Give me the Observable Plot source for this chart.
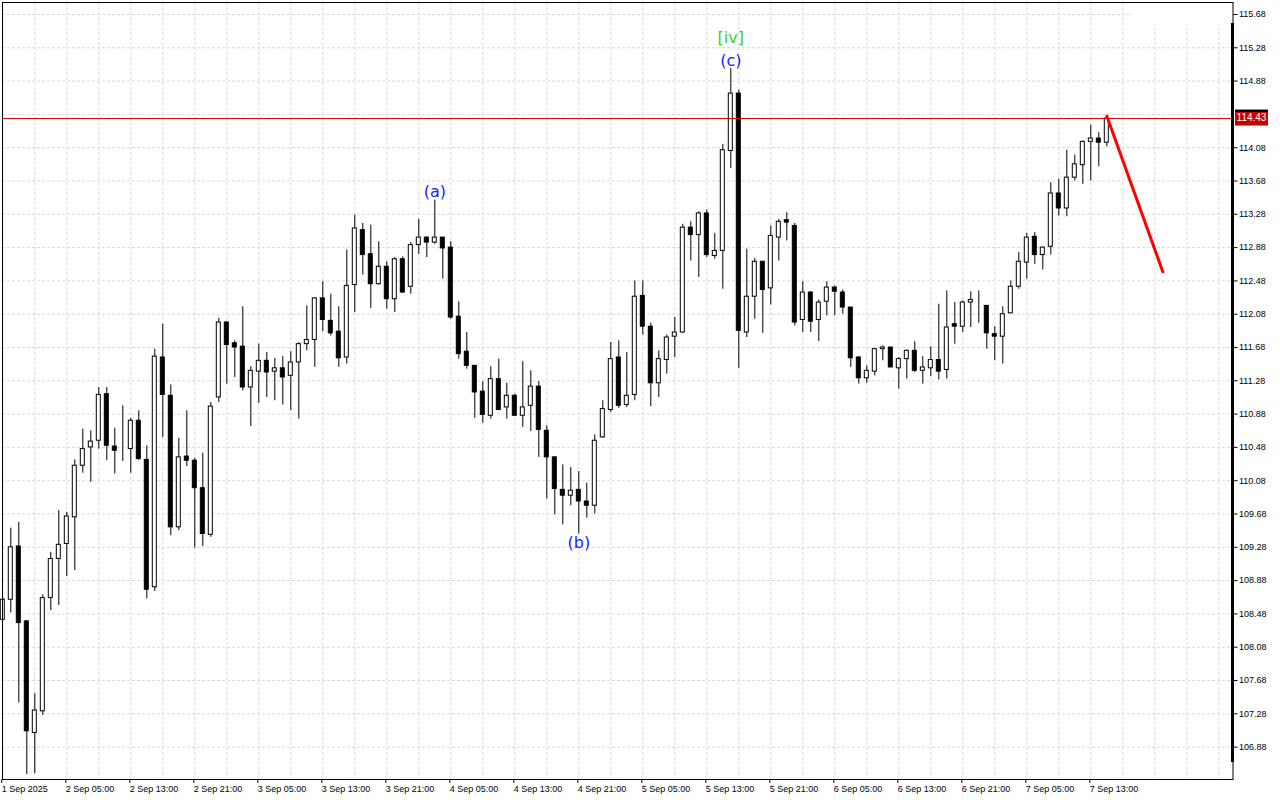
<!DOCTYPE html>
<html><head><meta charset="utf-8">
<script src="https://cdn.jsdelivr.net/npm/d3@7"></script>
<script src="https://cdn.jsdelivr.net/npm/@observablehq/plot@0.6"></script>
<style>html,body{margin:0;padding:0;background:#fff;} svg{display:block}</style>
</head><body><div id="chart"></div>
<script>
// Hourly candles, first bar = 1 Sep 2025 21:00
const opens = [108.41,108.65,109.29,108.39,107.05,107.31,108.67,109.14,109.32,109.64,
110.26,110.48,110.56,111.12,110.49,110.45,110.46,110.80,110.33,108.80,
111.56,111.10,109.52,110.37,110.32,109.99,109.43,111.08,111.98,111.73,
111.69,111.20,111.39,111.52,111.39,111.43,111.34,111.50,111.72,111.77,
112.27,112.00,111.87,111.56,112.43,113.09,112.80,112.44,112.65,112.26,
112.74,112.41,112.91,113.00,112.94,113.00,112.88,112.05,111.63,111.46,
111.15,110.86,111.30,110.96,111.10,110.86,110.98,111.21,110.68,110.36,
109.97,109.90,109.97,109.83,109.78,110.60,110.93,111.56,110.99,111.11,
112.30,111.93,111.25,111.53,111.81,111.86,113.12,113.03,113.29,112.78,
112.84,114.04,114.73,111.86,112.29,112.71,112.39,113.00,113.21,113.14,
112.01,112.34,112.01,112.23,112.40,112.34,112.16,111.56,111.31,111.39,
111.66,111.68,111.43,111.54,111.64,111.40,111.43,111.53,111.41,111.96,
111.93,112.22,112.25,112.18,111.84,111.81,112.09,112.41,112.70,113.01,
112.79,112.89,113.53,113.35,113.72,113.87,114.15,114.19,114.14];
const highs = [108.68,109.51,109.58,108.40,107.52,108.71,109.22,109.72,109.70,110.33,
110.70,110.68,111.20,111.20,110.71,110.98,110.83,110.92,110.50,111.66,
111.96,111.23,110.59,110.92,110.35,110.41,111.02,112.03,111.99,111.76,
112.17,111.45,111.72,111.62,111.55,111.57,111.63,111.74,112.18,112.28,
112.47,112.32,112.17,112.85,113.27,113.17,113.15,112.95,112.71,112.76,
112.77,112.94,113.22,113.01,113.45,113.00,112.95,112.23,111.86,111.46,
111.27,111.45,111.54,111.25,111.12,111.51,111.40,111.27,110.74,110.37,
110.27,110.24,110.19,110.05,110.63,111.04,111.74,111.76,111.62,112.48,
112.48,111.97,111.64,111.83,112.04,113.16,113.19,113.31,113.33,113.05,
114.12,115.03,114.77,112.86,112.75,112.71,113.14,113.22,113.30,113.17,
112.47,112.35,112.25,112.47,112.42,112.37,112.16,111.57,111.46,111.67,
111.70,111.68,111.56,111.65,111.75,111.57,111.69,112.20,112.36,112.22,
112.24,112.35,112.36,112.18,111.93,112.17,112.48,112.82,113.05,113.06,
112.89,113.66,113.70,114.05,113.99,114.16,114.35,114.26,114.46];
const lows = [108.39,108.49,107.41,106.55,106.56,107.26,108.52,108.58,108.93,109.00,
110.17,110.06,110.46,110.32,110.16,110.31,110.17,110.32,108.66,108.75,
110.60,109.42,109.48,110.25,109.27,109.29,109.40,111.02,111.24,111.32,
111.16,110.73,111.01,111.08,111.04,110.99,110.92,110.82,111.64,111.44,
111.87,111.82,111.44,111.48,112.10,112.55,112.15,112.43,112.14,112.10,
112.33,112.32,112.80,112.76,112.92,112.50,112.02,111.54,111.42,110.83,
110.77,110.82,110.92,110.82,110.85,110.72,110.67,110.36,109.86,109.67,
109.55,109.78,109.44,109.63,109.68,110.59,110.90,110.95,110.96,111.04,
111.83,110.97,111.08,111.36,111.56,111.85,112.72,112.52,112.76,112.74,
112.38,113.83,111.43,111.80,112.02,111.85,112.19,112.72,112.96,111.94,
111.86,111.86,111.75,112.06,112.06,112.08,111.44,111.24,111.25,111.34,
111.52,111.44,111.18,111.30,111.38,111.24,111.33,111.29,111.30,111.72,
111.86,111.92,111.97,111.66,111.52,111.48,112.09,112.38,112.50,112.68,
112.61,112.79,113.26,113.25,113.68,113.64,113.68,113.85,114.09];
const closes = [108.65,109.28,108.37,107.07,107.32,108.67,109.14,109.31,109.65,110.26,
110.46,110.55,111.11,110.50,110.44,110.45,110.80,110.34,108.77,111.57,
111.11,109.52,110.36,110.32,109.99,109.44,110.97,111.98,111.71,111.68,
111.20,111.40,111.52,111.38,111.43,111.32,111.50,111.72,111.77,112.27,
112.01,111.85,111.55,112.42,113.11,112.79,112.44,112.65,112.26,112.74,
112.34,112.91,113.00,112.94,113.00,112.87,112.04,111.60,111.46,111.14,
110.87,111.30,110.93,111.10,110.86,110.96,111.21,110.69,110.36,109.98,
109.90,109.96,109.83,109.78,110.56,110.94,111.54,110.98,111.10,112.29,
111.93,111.25,111.54,111.80,111.86,113.12,113.03,113.29,112.79,112.84,
114.05,114.73,111.88,112.29,112.71,112.37,113.02,113.19,113.18,111.98,
112.34,111.99,112.22,112.40,112.35,112.16,111.55,111.31,111.40,111.66,
111.68,111.44,111.54,111.64,111.40,111.44,111.53,111.39,111.92,111.93,
112.22,112.25,112.25,111.85,111.81,112.08,112.41,112.71,113.00,112.79,
112.88,113.53,113.35,113.72,113.88,114.15,114.19,114.14,114.43];

const timeLabels = ["1 Sep 2025","2 Sep 05:00","2 Sep 13:00","2 Sep 21:00","3 Sep 05:00","3 Sep 13:00",
"3 Sep 21:00","4 Sep 05:00","4 Sep 13:00","4 Sep 21:00","5 Sep 05:00","5 Sep 13:00",
"5 Sep 21:00","6 Sep 05:00","6 Sep 13:00","6 Sep 21:00","7 Sep 05:00","7 Sep 13:00"];
const priceTicks = [106.88,107.28,107.68,108.08,108.48,108.88,109.28,109.68,110.08,110.48,110.88,111.28,
111.68,112.08,112.48,112.88,113.28,113.68,114.08,114.48,114.88,115.28,115.68];
const lastPrice = 114.43;

const waveBars  = [54, 72, 91, 91];
const waveTexts = ["(a)", "(b)", "(c)", "[iv]"];

const forecastBars = [138, 145];
const forecastPrices = [114.46, 112.59];

const bars = opens.map((o, i) => ({i, o, h: highs[i], l: lows[i], c: closes[i]}));
const waves = waveBars.map((b, k) => ({bar: b, text: waveTexts[k], h: highs[b], l: lows[b]}));
const forecast = forecastBars.map((b, k) => ({bar: b, p: forecastPrices[k]}));

const labelTicks = timeLabels.map((_, k) => k * 8);
const gridTicks = d3.range(0, 153, 4);
// the tick label hidden behind the last-price tag in the reference
const visiblePriceTicks = priceTicks.filter(v => Math.abs(v - lastPrice) > 0.2);

const W = 1280, H = 800;
const mL = 2, mR = 47.5, mT = 2, mB = 21;

function topCover(index, scales, values, dims) {
  const g = d3.create("svg:g");
  const xr = dims.width - dims.marginRight;
  g.append("rect").attr("x", xr - 100).attr("y", dims.marginTop + 1)
    .attr("width", 100).attr("height", 21).attr("fill", "white");
  return g.node();
}
function rightBar(index, scales, values, dims) {
  const g = d3.create("svg:g");
  const xr = dims.width - dims.marginRight;
  g.append("rect").attr("x", xr - 1.5).attr("y", dims.marginTop + 21)
    .attr("width", 3).attr("height", dims.height - dims.marginBottom - dims.marginTop - 38).attr("fill", "black");
  return g.node();
}
function priceTag(index, scales, values, dims) {
  const g = d3.create("svg:g");
  const y = scales.y(lastPrice);
  const x0 = dims.width - dims.marginRight + 2.5;
  g.append("rect").attr("x", x0).attr("y", y - 8.5).attr("width", 33).attr("height", 3).attr("fill", "black");
  g.append("rect").attr("x", x0).attr("y", y - 6).attr("width", 33).attr("height", 13.5).attr("fill", "#c80000");
  g.append("text").attr("x", x0 + 16.5).attr("y", y + 0.8).attr("text-anchor", "middle")
    .attr("dominant-baseline", "middle").attr("fill", "white")
    .attr("font-size", 10).attr("font-family", "'Liberation Sans', Arial, sans-serif")
    .text(lastPrice.toFixed(2));
  return g.node();
}

const chart = Plot.plot({
  width: W, height: H,
  marginLeft: mL, marginRight: mR, marginTop: mT, marginBottom: mB,
  style: {fontFamily: "'Liberation Sans', Arial, sans-serif", fontSize: "9px", color: "black", background: "white"},
  x: {type: "linear", domain: [-0.0375, 153.775]},
  y: {domain: [106.491, 115.824]},
  marks: [
    Plot.gridY(priceTicks, {stroke: "#d9d9d9", strokeOpacity: 1, strokeDasharray: "3,2"}),
    Plot.gridX(gridTicks, {stroke: "#d9d9d9", strokeOpacity: 1, strokeDasharray: "3,2"}),
    topCover,
    Plot.ruleX(bars, {x: "i", y1: "l", y2: "h", stroke: "black", strokeWidth: 1}),
    Plot.rect(bars.filter(d => d.c >= d.o), {x1: d => d.i - 0.25, x2: d => d.i + 0.25, y1: "o", y2: "c", fill: "white", stroke: "black", strokeWidth: 1}),
    Plot.rect(bars.filter(d => d.c < d.o), {x1: d => d.i - 0.25, x2: d => d.i + 0.25, y1: "o", y2: "c", fill: "black", stroke: "black", strokeWidth: 1}),
    Plot.ruleY([lastPrice], {stroke: "#d00000", strokeWidth: 1}),
    Plot.line(forecast, {x: "bar", y: "p", stroke: "#ff0000", strokeWidth: 3}),
    Plot.text(waves.filter(d => d.text === "(a)" || d.text === "(c)"), {x: "bar", y: "h", text: "text", dy: -8, fill: "#1a1aff", fontSize: 16, fontFamily: "'DejaVu Sans', sans-serif"}),
    Plot.text(waves.filter(d => d.text === "(b)"), {x: "bar", y: "l", text: "text", dy: 9, fill: "#1a1aff", fontSize: 16, fontFamily: "'DejaVu Sans', sans-serif"}),
    Plot.text(waves.filter(d => d.text === "[iv]"), {x: "bar", y: "h", text: "text", dy: -31, fill: "#44cc33", fontSize: 16, fontFamily: "'DejaVu Sans', sans-serif"}),
    Plot.frame({stroke: "black"}),
    Plot.axisX(labelTicks, {anchor: "bottom", tickSize: 4, tickPadding: 2, tickFormat: d => timeLabels[d / 8], textAnchor: "start", dx: -1, label: null, fontSize: 9}),
    Plot.axisY(visiblePriceTicks, {anchor: "right", tickSize: 4, tickPadding: 2, tickFormat: d => d.toFixed(2), label: null, fontSize: 9}),
    rightBar,
    priceTag
  ]
});
document.getElementById("chart").appendChild(chart);
</script>
</body></html>
